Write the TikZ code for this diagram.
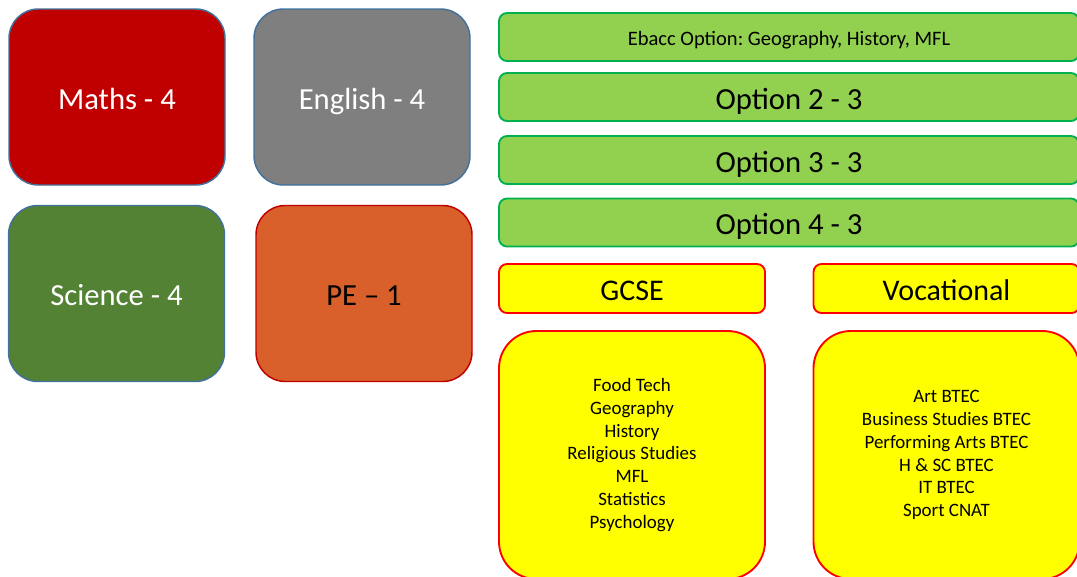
\documentclass[tikz,border=0pt]{standalone}
\usepackage{fontspec}
\setmainfont{Carlito}
\usepackage{tikz}
\frenchspacing

\definecolor{mathsred}{HTML}{C00000}
\definecolor{englishgray}{HTML}{7F7F7F}
\definecolor{sciencegreen}{HTML}{548235}
\definecolor{peorange}{HTML}{D9602B}
\definecolor{edgeblue}{HTML}{41719C}
\definecolor{bargreen}{HTML}{92D050}
\definecolor{baredge}{HTML}{00B050}
\definecolor{optyellow}{HTML}{FFFF00}
\definecolor{optred}{HTML}{FF0000}

\begin{document}
\begin{tikzpicture}[x=0.75pt,y=0.75pt,yscale=-1,xscale=1,
  subject/.style={draw=edgeblue,line width=1.1pt,rounded corners=22pt,minimum width=162pt,minimum height=132pt,inner sep=0pt,text height=18pt,text depth=0pt,font=\fontsize{23}{27}\selectfont},
  optbar/.style={draw=baredge,fill=bargreen,line width=1.4pt,rounded corners=6pt,minimum width=435pt,minimum height=36pt,inner sep=0pt,text height=18pt,text depth=0pt,font=\fontsize{23}{27}\selectfont},
  header/.style={draw=optred,fill=optyellow,line width=1.4pt,rounded corners=6pt,minimum width=199.5pt,minimum height=36.75pt,inner sep=0pt,text height=18pt,text depth=0pt,font=\fontsize{22.5}{27}\selectfont},
  listbox/.style={draw=optred,fill=optyellow,line width=1.4pt,rounded corners=28pt,minimum width=199.5pt,minimum height=186pt,inner sep=0pt,align=center,font=\fontsize{14.2}{17.1}\selectfont}]
%set diagram size 1077 x 576
\clip (0,0) rectangle (1077,576);

%Core subjects
\node [subject,fill=mathsred,text=white] (maths) at (117,97) {Maths - 4};
\node [subject,fill=englishgray,text=white] (english) at (362,97) {English - 4};
\node [subject,fill=sciencegreen,text=white] (science) at (116.5,293.5) {Science - 4};
\node [subject,fill=peorange,draw=mathsred] (pe) at (364,293.5) {PE -- 1};

%Option bars
\node [optbar,text height=12pt,font=\fontsize{15.4}{18}\selectfont] (ebacc) at (789,37) {Ebacc Option: Geography, History, MFL};
\node [optbar] (opttwo) at (789,97) {Option 2 - 3};
\node [optbar] (optthree) at (789,160) {Option 3 - 3};
\node [optbar] (optfour) at (789,222.5) {Option 4 - 3};

%Headers
\node [header] (gcse) at (632,288.5) {GCSE};
\node [header] (vocational) at (946.5,288.5) {Vocational};

%Lists
\node [listbox] (gcselist) at (632,455) {Food Tech\\Geography\\History\\Religious Studies\\MFL\\Statistics\\Psychology};
\node [listbox] (voclist) at (946.5,455) {Art BTEC\\Business Studies BTEC\\Performing Arts BTEC\\H \& SC BTEC\\IT BTEC\\Sport CNAT};

\end{tikzpicture}
\end{document}
